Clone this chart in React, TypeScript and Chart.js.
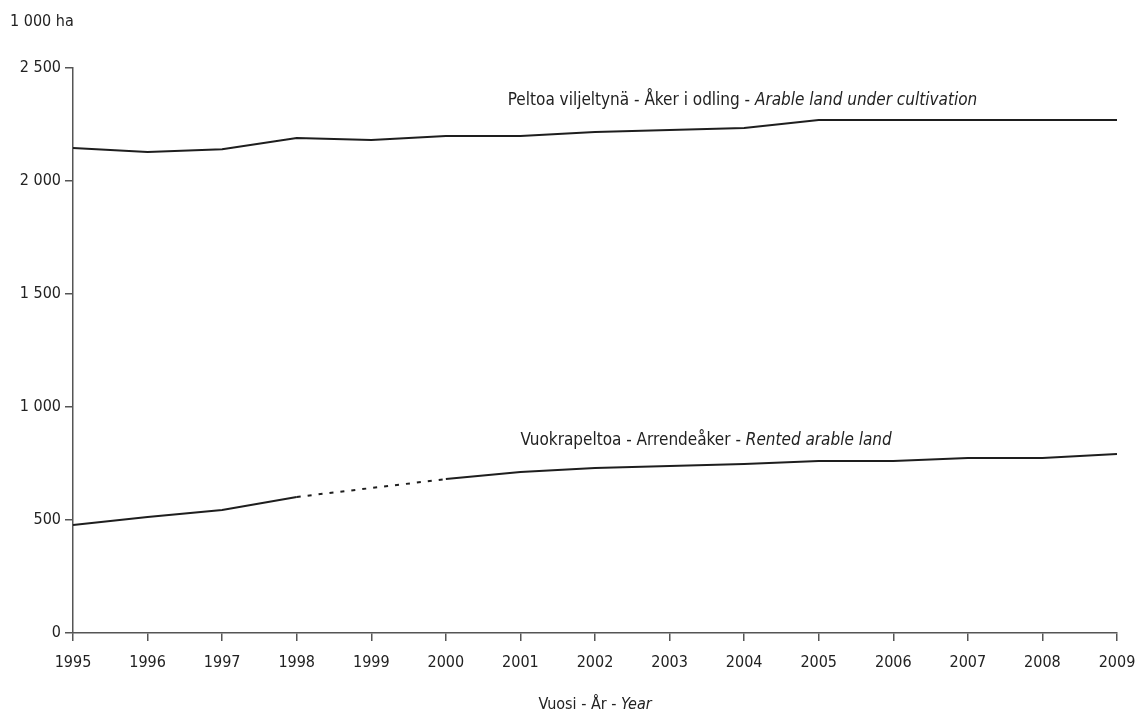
import React, { useEffect, useRef } from "react";
import { Chart, registerables } from "chart.js";

Chart.register(...registerables);

const years = ["1995","1996","1997","1998","1999","2000","2001","2002","2003","2004","2005","2006","2007","2008","2009"];
const arableLand = [2146, 2128, 2141, 2190, 2181, 2199, 2199, 2217, 2226, 2234, 2270, 2270, 2270, 2270, 2270];
const rentedLand = [478, 513, 544, 602, null, 681, 712, 730, 739, 748, 761, 761, 774, 774, 792];
const yTicks = [0, 500, 1000, 1500, 2000, 2500];

const FONT = "'Liberation Sans Narrow', 'DejaVu Sans Condensed', 'Liberation Sans', sans-serif";

function fmt(v: number) {
  return String(v).replace(/\B(?=(\d{3})+(?!\d))/g, " ");
}

const textPlugin = {
  id: "texts",
  afterDraw(chart: any) {
    const { ctx } = chart;
    const x = chart.scales.x;
    const y = chart.scales.y;
    ctx.save();
    ctx.fillStyle = "#222";
    ctx.textBaseline = "middle";
    const drawMixed = (parts: [string, boolean][], sx: number, sy: number, size: number) => {
      let cx = sx;
      ctx.textAlign = "left";
      for (const [t, it] of parts) {
        ctx.font = `${it ? "italic " : ""}${size}px ${FONT}`;
        ctx.fillText(t, cx, sy);
        cx += ctx.measureText(t).width;
      }
    };
    const measure = (parts: [string, boolean][], size: number) => {
      let w = 0;
      for (const [t, it] of parts) {
        ctx.font = `${it ? "italic " : ""}${size}px ${FONT}`;
        w += ctx.measureText(t).width;
      }
      return w;
    };
    drawMixed([["1 000 ha", false]], 10, 22, 16);
    const p1: [string, boolean][] = [["Peltoa viljeltynä - Åker i odling - ", false], ["Arable land under cultivation", true]];
    drawMixed(p1, x.getPixelForValue(5.83), y.getPixelForValue(2355), 17);
    const p2: [string, boolean][] = [["Vuokrapeltoa - Arrendeåker - ", false], ["Rented arable land", true]];
    drawMixed(p2, x.getPixelForValue(6.0), y.getPixelForValue(852), 17);
    const p3: [string, boolean][] = [["Vuosi - År - ", false], ["Year", true]];
    const w3 = measure(p3, 16);
    drawMixed(p3, (chart.chartArea.left + chart.chartArea.right) / 2 - w3 / 2, 705, 16);
    ctx.restore();
  },
};

export default function App() {
  const ref = useRef<HTMLCanvasElement>(null);
  useEffect(() => {
    if (!ref.current) return;
    const skipped = (c: any, v: any) => (c.p0.skip || c.p1.skip ? v : undefined);
    const chart = new Chart(ref.current, {
      type: "line",
      data: {
        labels: years,
        datasets: [
          {
            data: arableLand,
            borderColor: "#1e1e1e",
            borderWidth: 2,
            pointRadius: 0,
            tension: 0,
          },
          {
            data: rentedLand as any,
            borderColor: "#1e1e1e",
            borderWidth: 2,
            pointRadius: 0,
            tension: 0,
            spanGaps: true,
            segment: { borderDash: (c: any) => skipped(c, [4, 7]) },
          },
        ],
      },
      options: {
        responsive: false,
        animation: false,
        layout: { padding: { top: 68, right: 21, left: 0, bottom: 0 } },
        plugins: { legend: { display: false }, tooltip: { enabled: false } },
        scales: {
          x: {
            offset: false,
            grid: { drawOnChartArea: false, drawTicks: true, tickLength: 8, color: "#555", lineWidth: 1.5 },
            border: { display: true, color: "#555", width: 1.5 },
            ticks: { color: "#222", font: { family: FONT, size: 16 }, padding: 12, maxRotation: 0, autoSkip: false },
            afterFit: (s: any) => { s.height = 722 - 633; s.paddingRight = 0; s.paddingLeft = 0; },
          },
          y: {
            min: 0,
            max: 2500,
            afterBuildTicks: (s: any) => { s.ticks = yTicks.map((v) => ({ value: v })); },
            grid: { drawOnChartArea: false, drawTicks: true, tickLength: 8, color: "#555", lineWidth: 1.5 },
            border: { display: true, color: "#555", width: 1.5 },
            ticks: { color: "#222", font: { family: FONT, size: 16 }, padding: 4, callback: (v: any) => fmt(Number(v)) },
            afterFit: (s: any) => { s.width = 73; s.paddingTop = 0; s.paddingBottom = 0; },
          },
        },
      },
      plugins: [textPlugin],
    });
    return () => chart.destroy();
  }, []);
  return (
    <div style={{ position: "absolute", left: 0, top: 0, width: 1138, height: 722, background: "#fff" }}>
      <canvas ref={ref} width={1138} height={722} style={{ width: 1138, height: 722 }} />
    </div>
  );
}
